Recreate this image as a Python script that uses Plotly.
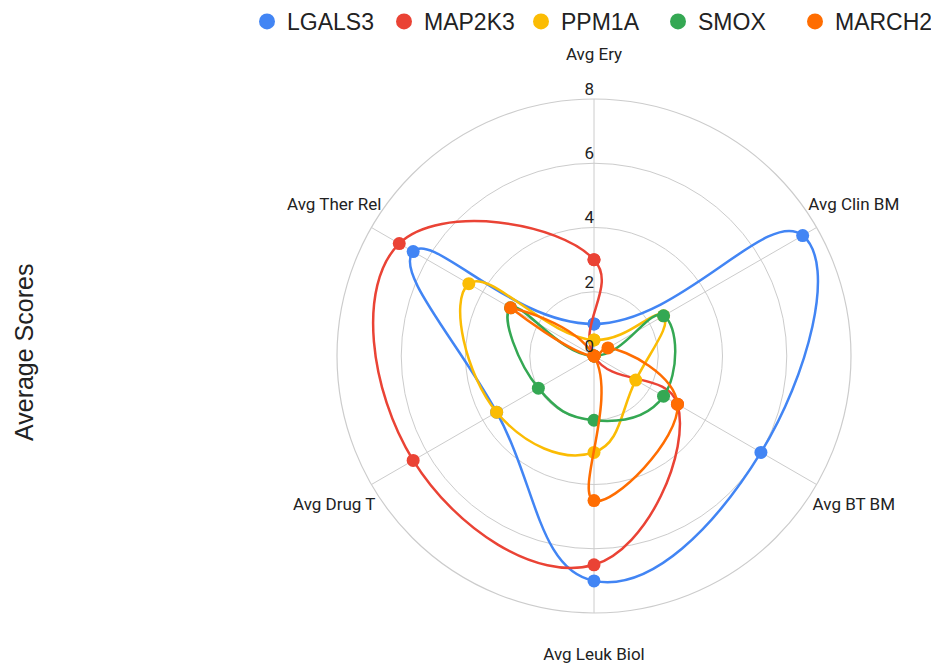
import plotly.graph_objects as go

# Radar axes (clockwise from the top)
categories = ["Avg Ery", "Avg Clin BM", "Avg BT BM", "Avg Leuk Biol", "Avg Drug T", "Avg Ther Rel"]

# Average score per gene on each axis
lgals3 = [1.0, 7.5, 6.0, 7.0, 3.5, 6.5]
map2k3 = [3.0, 0.0, 3.0, 6.5, 6.5, 7.0]
ppm1a = [0.5, 2.5, 1.5, 3.0, 3.5, 4.5]
smox = [0.0, 2.5, 2.5, 2.0, 2.0, 3.0]
march2 = [0.0, 0.5, 3.0, 4.5, 0.0, 3.0]

series_names = ["LGALS3", "MAP2K3", "PPM1A", "SMOX", "MARCH2"]
series_values = [lgals3, map2k3, ppm1a, smox, march2]
series_colors = ["#4285F4", "#EA4335", "#FBBC04", "#34A853", "#FF6D01"]

radial_ticks = [0, 2, 4, 6, 8]

GRID = "#cccccc"
TEXT = "#222222"
LABEL_FONT = dict(family="Roboto, Arial, sans-serif", size=17, color=TEXT)

# Pixel geometry of the web: centre and outer radius, plus the caption ring
W, H = 931, 665
CX, CY = 594, 356
R_WEB, R_CAPTION = 257, 300


def square_domain(radius):
    return dict(
        x=[(CX - radius) / W, (CX + radius) / W],
        y=[(H - CY - radius) / H, (H - CY + radius) / H],
    )


fig = go.Figure()

for name, vals, color in zip(series_names, series_values, series_colors):
    fig.add_trace(go.Scatterpolar(
        r=vals + vals[:1],
        theta=categories + categories[:1],
        name=name,
        legendgroup=name,
        showlegend=False,
        mode="lines+markers",
        line=dict(color=color, width=2.5, shape="spline", smoothing=1.3),
        marker=dict(color=color, size=13),
        hoverinfo="name+r+theta",
    ))

# Legend entries: plain coloured dots
for name, color in zip(series_names, series_colors):
    fig.add_trace(go.Scatterpolar(
        r=[None],
        theta=[None],
        name=name,
        legendgroup=name,
        mode="markers",
        marker=dict(color=color, size=18),
        hoverinfo="skip",
    ))

# Radial scale numbers along the top spoke
fig.add_trace(go.Scatterpolar(
    r=radial_ticks,
    theta=[categories[0]] * len(radial_ticks),
    mode="text",
    text=[str(t) for t in radial_ticks],
    textposition="top left",
    textfont=LABEL_FONT,
    showlegend=False,
    hoverinfo="skip",
    cliponaxis=False,
))

# Axis captions, placed on the rim of a wider transparent polar frame
fig.add_trace(go.Scatterpolar(
    r=[1] * len(categories),
    theta=categories,
    mode="text",
    text=categories,
    textposition="middle center",
    textfont=LABEL_FONT,
    showlegend=False,
    hoverinfo="skip",
    cliponaxis=False,
    subplot="polar2",
))

hidden_radial = dict(range=[0, 1], showticklabels=False, ticks="", showline=False, showgrid=False)
hidden_angular = dict(direction="clockwise", rotation=90, showticklabels=False, ticks="",
                      showline=False, showgrid=False)

fig.update_layout(
    width=W,
    height=H,
    margin=dict(l=0, r=0, t=0, b=0, autoexpand=False),
    paper_bgcolor="white",
    plot_bgcolor="white",
    polar=dict(
        domain=square_domain(R_WEB),
        bgcolor="white",
        radialaxis=dict(
            range=[0, 8],
            tickvals=radial_ticks,
            showticklabels=False,
            ticks="",
            showline=False,
            gridcolor=GRID,
            gridwidth=1.2,
            angle=90,
        ),
        angularaxis=dict(
            direction="clockwise",
            rotation=90,
            showticklabels=False,
            ticks="",
            showline=True,
            linecolor=GRID,
            linewidth=1.2,
            gridcolor=GRID,
            gridwidth=1.2,
        ),
    ),
    polar2=dict(
        domain=square_domain(R_CAPTION),
        bgcolor="rgba(0,0,0,0)",
        radialaxis=hidden_radial,
        angularaxis=dict(hidden_angular, categoryarray=categories, type="category"),
    ),
    legend=dict(
        orientation="h",
        x=247 / W,
        xanchor="left",
        y=1.0,
        yanchor="top",
        font=dict(family="Arial, Liberation Sans, sans-serif", size=23, color=TEXT),
        itemsizing="trace",
        tracegroupgap=0,
        entrywidthmode="pixels",
        entrywidth=92,
    ),
    annotations=[dict(
        text="Average Scores",
        textangle=-90,
        x=24 / W,
        y=(H - 353) / H,
        xref="paper",
        yref="paper",
        xanchor="center",
        yanchor="middle",
        showarrow=False,
        font=dict(family="Arial, Liberation Sans, sans-serif", size=25, color=TEXT),
    )],
)

fig.write_html("out.html")
